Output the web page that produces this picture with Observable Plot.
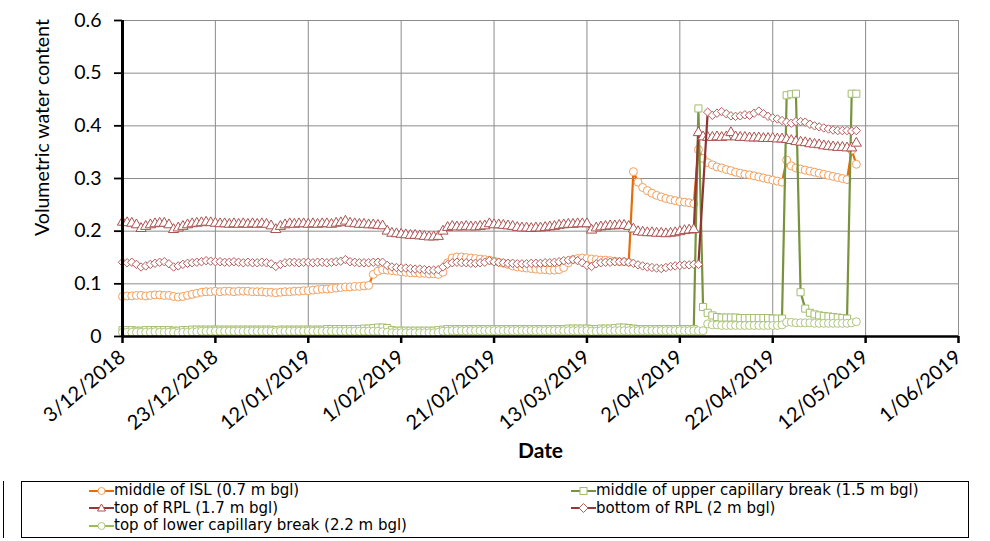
<!DOCTYPE html>
<html><head><meta charset="utf-8">
<script src="https://cdn.jsdelivr.net/npm/d3@7"></script>
<script src="https://cdn.jsdelivr.net/npm/@observablehq/plot@0.6"></script>
<style>
body{margin:0;background:#fff;font-family:Lato,"Open Sans",sans-serif;}
#wrap{position:relative;width:990px;height:541px;overflow:hidden;background:#fff;}
#legend{position:absolute;left:21px;top:481px;width:948px;height:57px;border:1px solid #000;box-sizing:border-box;}
.item{position:absolute;font-family:"DejaVu Sans",sans-serif;font-size:15px;line-height:17.5px;height:17.5px;white-space:nowrap;display:flex;align-items:center;color:#000;}
#edge{position:absolute;left:3px;top:481px;width:1px;height:57px;background:#000;}
</style></head><body><div id="wrap"><div id="chart"></div><div id="edge"></div><div id="legend"></div></div>
<script>
// ---- data (daily readings starting 3 Dec 2018) ----
const startDate = "2018-12-03";
const xTicks = ["2018-12-03","2018-12-23","2019-01-12","2019-02-01","2019-02-21","2019-03-13","2019-04-02","2019-04-22","2019-05-12","2019-06-01"];
const yTicks = [0, 0.1, 0.2, 0.3, 0.4, 0.5, 0.6];
const seriesNames = ["middle of ISL (0.7 m bgl)","middle of upper capillary break (1.5 m bgl)","top of RPL (1.7 m bgl)","bottom of RPL (2 m bgl)","top of lower capillary break (2.2 m bgl)"];

const isl = [0.076,0.077,0.077,0.078,0.078,0.077,0.078,0.079,0.079,0.078,
 0.078,0.076,0.075,0.076,0.078,0.080,0.082,0.084,0.085,0.085,
 0.086,0.085,0.086,0.086,0.085,0.086,0.086,0.086,0.085,0.085,
 0.085,0.084,0.084,0.083,0.084,0.085,0.085,0.086,0.086,0.087,
 0.087,0.088,0.089,0.090,0.090,0.091,0.092,0.093,0.094,0.094,
 0.095,0.095,0.096,0.097,0.118,0.124,0.127,0.126,0.125,0.124,
 0.123,0.122,0.121,0.121,0.120,0.120,0.119,0.119,0.118,0.122,
 0.140,0.149,0.151,0.151,0.150,0.149,0.148,0.147,0.146,0.145,
 0.143,0.141,0.139,0.137,0.134,0.132,0.131,0.130,0.129,0.128,
 0.127,0.127,0.126,0.126,0.127,0.131,0.140,0.146,0.148,0.149,
 0.148,0.147,0.146,0.145,0.145,0.144,0.143,0.142,0.142,0.141,
 0.313,0.293,0.283,0.277,0.272,0.268,0.265,0.262,0.260,0.258,
 0.256,0.255,0.254,0.252,0.355,0.338,0.330,0.326,0.322,0.320,
 0.317,0.315,0.312,0.310,0.308,0.307,0.305,0.303,0.301,0.299,
 0.297,0.295,0.293,0.335,0.324,0.320,0.318,0.316,0.314,0.312,
 0.310,0.308,0.306,0.304,0.302,0.300,0.298,0.354,0.327];

const upperCB = [0.012,0.012,0.012,0.011,0.011,0.012,0.012,0.012,0.012,0.012,
 0.012,0.011,0.011,0.012,0.012,0.013,0.013,0.013,0.013,0.013,
 0.013,0.013,0.013,0.013,0.013,0.013,0.013,0.013,0.013,0.013,
 0.013,0.013,0.013,0.012,0.013,0.013,0.013,0.013,0.013,0.013,
 0.013,0.013,0.013,0.013,0.014,0.014,0.014,0.014,0.014,0.014,
 0.014,0.014,0.015,0.015,0.016,0.017,0.017,0.016,0.012,0.011,
 0.011,0.011,0.011,0.011,0.011,0.011,0.011,0.011,0.012,0.013,
 0.014,0.014,0.014,0.014,0.014,0.014,0.014,0.014,0.014,0.014,
 0.014,0.014,0.014,0.014,0.014,0.014,0.014,0.014,0.014,0.014,
 0.014,0.014,0.014,0.014,0.014,0.014,0.015,0.015,0.015,0.015,
 0.015,0.014,0.014,0.015,0.015,0.015,0.016,0.017,0.017,0.016,
 0.015,0.014,0.014,0.014,0.014,0.014,0.014,0.014,0.014,0.014,
 0.014,0.014,0.014,0.014,0.433,0.056,0.045,0.040,0.037,0.036,
 0.036,0.036,0.036,0.035,0.035,0.035,0.035,0.035,0.035,0.035,
 0.034,0.034,0.034,0.458,0.460,0.461,0.084,0.053,0.045,0.042,
 0.040,0.039,0.038,0.037,0.036,0.035,0.034,0.461,0.461];

const topRPL = [0.217,0.216,0.215,0.212,0.205,0.209,0.212,0.214,0.215,0.215,
 0.212,0.203,0.206,0.209,0.212,0.214,0.215,0.216,0.217,0.216,
 0.215,0.214,0.214,0.213,0.214,0.213,0.214,0.213,0.214,0.213,
 0.214,0.213,0.210,0.203,0.209,0.212,0.214,0.213,0.214,0.214,
 0.213,0.214,0.213,0.214,0.214,0.213,0.215,0.216,0.219,0.215,
 0.214,0.213,0.213,0.212,0.212,0.211,0.210,0.200,0.196,0.195,
 0.194,0.193,0.192,0.192,0.191,0.190,0.189,0.189,0.190,0.200,
 0.207,0.209,0.208,0.208,0.209,0.208,0.208,0.209,0.210,0.214,
 0.212,0.212,0.211,0.210,0.209,0.207,0.206,0.206,0.205,0.206,
 0.206,0.207,0.208,0.209,0.211,0.212,0.213,0.213,0.214,0.214,
 0.214,0.202,0.206,0.208,0.209,0.210,0.210,0.211,0.211,0.209,
 0.204,0.199,0.198,0.197,0.197,0.196,0.196,0.195,0.196,0.197,
 0.199,0.201,0.202,0.203,0.387,0.379,0.378,0.378,0.379,0.378,
 0.379,0.387,0.379,0.378,0.378,0.377,0.377,0.377,0.376,0.376,
 0.376,0.375,0.375,0.374,0.372,0.370,0.369,0.368,0.366,0.365,
 0.364,0.362,0.361,0.360,0.359,0.359,0.358,0.358,0.367];

const bottomRPL = [0.141,0.140,0.141,0.137,0.132,0.134,0.137,0.139,0.141,0.142,
 0.138,0.132,0.134,0.137,0.139,0.140,0.141,0.142,0.144,0.143,
 0.142,0.142,0.141,0.141,0.142,0.141,0.140,0.141,0.140,0.140,
 0.141,0.140,0.138,0.133,0.137,0.140,0.141,0.141,0.140,0.141,
 0.141,0.140,0.141,0.141,0.140,0.141,0.142,0.143,0.146,0.142,
 0.141,0.140,0.140,0.140,0.141,0.141,0.141,0.135,0.132,0.131,
 0.130,0.130,0.129,0.128,0.128,0.127,0.126,0.126,0.127,0.132,
 0.137,0.140,0.141,0.140,0.140,0.139,0.139,0.140,0.141,0.144,
 0.142,0.141,0.140,0.139,0.139,0.138,0.138,0.138,0.139,0.139,
 0.139,0.140,0.140,0.141,0.142,0.144,0.145,0.146,0.144,0.140,
 0.135,0.133,0.138,0.140,0.141,0.141,0.142,0.142,0.142,0.141,
 0.139,0.136,0.134,0.132,0.131,0.130,0.129,0.131,0.133,0.134,
 0.135,0.136,0.136,0.137,0.137,null,0.426,0.420,0.424,0.427,
 0.423,0.419,0.418,0.419,0.421,0.420,0.424,0.428,0.423,0.418,
 0.415,0.413,0.410,0.407,0.405,0.408,0.408,0.407,0.403,0.400,
 0.398,0.396,0.394,0.392,0.391,0.391,0.391,0.390,0.391];

const lowerCB = [0.008,0.008,0.008,0.008,0.008,0.008,0.008,0.009,0.008,0.008,
 0.008,0.008,0.007,0.008,0.008,0.009,0.009,0.010,0.010,0.010,
 0.010,0.010,0.010,0.010,0.010,0.010,0.010,0.010,0.010,0.010,
 0.010,0.010,0.010,0.009,0.010,0.010,0.010,0.010,0.010,0.010,
 0.010,0.010,0.010,0.010,0.010,0.010,0.010,0.010,0.010,0.010,
 0.010,0.010,0.010,0.010,0.010,0.010,0.009,0.008,0.007,0.007,
 0.007,0.007,0.007,0.007,0.007,0.007,0.007,0.007,0.008,0.010,
 0.010,0.011,0.011,0.011,0.011,0.011,0.011,0.011,0.011,0.011,
 0.011,0.011,0.011,0.011,0.011,0.011,0.011,0.011,0.011,0.011,
 0.011,0.011,0.011,0.011,0.011,0.011,0.011,0.011,0.011,0.011,
 0.011,0.010,0.010,0.011,0.011,0.011,0.011,0.011,0.011,0.011,
 0.011,0.011,0.011,0.011,0.011,0.011,0.011,0.011,0.011,0.011,
 0.011,0.011,0.011,0.011,0.011,0.011,0.024,0.022,0.022,0.021,
 0.021,0.021,0.021,0.021,0.021,0.021,0.021,0.021,0.021,0.021,
 0.021,0.021,0.022,0.027,0.027,0.026,0.026,0.026,0.026,0.025,
 0.025,0.025,0.025,0.025,0.025,0.025,0.025,0.026,0.028];

// ---- styles ----
const styles = [
  {values: isl,       line: "#E46C0A", mark: "#F2A05E", symbol: "circle",   r: 4,   lg: "#E46C0A"},
  {values: upperCB,   line: "#77933C", mark: "#A3BC6E", symbol: "square",   r: 4,   lg: "#77933C"},
  {values: topRPL,    line: "#953735", mark: "#A9524F", symbol: "triangle", r: 3.8, lg: "#953735"},
  {values: bottomRPL, line: "#8E3433", mark: "#B0605D", symbol: "diamond2", r: 3.8, lg: "#953735"},
  {values: lowerCB,   line: "#98B654", mark: "#AFC77F", symbol: "circle",   r: 4,   lg: "#9BBB59"}
];

const start = new Date(startDate + "T00:00:00Z");
const parse = s => new Date(s + "T00:00:00Z");
const toRows = vals => vals.map((v, i) => ({date: d3.utcDay.offset(start, i), v})).filter(d => d.v != null);

const marks = [
  Plot.gridX(xTicks.map(parse), {stroke: "#8c8c8c", strokeOpacity: 1, strokeWidth: 1}),
  Plot.gridY(yTicks, {stroke: "#8c8c8c", strokeOpacity: 1, strokeWidth: 1})
];
for (const s of styles) {
  const rows = toRows(s.values);
  marks.push(Plot.line(rows, {x: "date", y: "v", stroke: s.line, strokeWidth: 2.2}));
  marks.push(Plot.dot(rows, {x: "date", y: "v", symbol: s.symbol, r: s.r, stroke: s.mark, fill: "white", strokeWidth: 1}));
}
marks.push(
  Plot.axisY(yTicks, {tickSize: 8, tickPadding: 13, strokeWidth: 1.8, fontSize: 19.5, tickFormat: d => d === 0 ? "0" : d.toFixed(1), label: null}),
  Plot.axisX(xTicks.map(parse), {tickSize: 7, tickPadding: 11, strokeWidth: 2.5, tickRotate: -40, fontSize: 20, tickFormat: d3.utcFormat("%-d/%m/%Y"), label: null}),
  Plot.ruleX([parse(xTicks[0])], {stroke: "black", strokeWidth: 3}),
  Plot.ruleY([0], {stroke: "black", strokeWidth: 2.5}),
  Plot.text(["Volumetric water content"], {text: d => d, frameAnchor: "left", rotate: -90, dx: -80, dy: -51, textAnchor: "middle", fontSize: 19.5}),
  Plot.text(["Date"], {text: d => d, frameAnchor: "bottom", dy: 121, fontWeight: "bold", fontSize: 21})
);

const chart = Plot.plot({
  width: 990, height: 476,
  marginLeft: 122, marginRight: 32, marginTop: 20, marginBottom: 140,
  style: {fontFamily: "Lato, 'Open Sans', sans-serif", background: "white", color: "black", overflow: "visible"},
  x: {type: "utc", domain: [parse(xTicks[0]), parse(xTicks[xTicks.length - 1])]},
  y: {domain: [0, 0.6]},
  marks
});
document.getElementById("chart").appendChild(chart);

// ---- legend ----
const legendPos = [[67, 0], [549, 0], [67, 17.5], [549, 17.5], [67, 35]];
const symPaths = {
  circle: '<circle cx="12.5" cy="6" r="3.5"/>',
  square: '<rect x="9" y="2.5" width="7" height="7"/>',
  triangle: '<path d="M12.5,2 L16.5,9 L8.5,9 Z"/>',
  diamond2: '<path d="M12.5,1.5 L17,6 L12.5,10.5 L8,6 Z"/>'
};
const legend = document.getElementById("legend");
styles.forEach((s, i) => {
  const div = document.createElement("div");
  div.className = "item";
  div.style.left = legendPos[i][0] + "px";
  div.style.top = legendPos[i][1] + "px";
  div.innerHTML = `<svg width="25" height="12"><line x1="0" x2="25" y1="6" y2="6" stroke="${s.lg}" stroke-width="2"/><g fill="white" stroke="${s.mark}" stroke-width="1">${symPaths[s.symbol]}</g></svg><span>${seriesNames[i]}</span>`;
  legend.appendChild(div);
});
</script></body></html>
